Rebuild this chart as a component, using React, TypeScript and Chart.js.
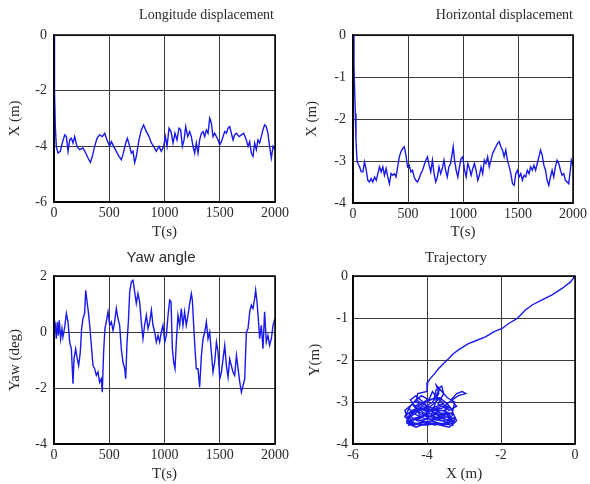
import React, { useEffect, useRef } from "react";
import { Chart, registerables } from "chart.js";
Chart.register(...registerables);

// ---------- Data ----------
const LON_T = [0,3,6,12,21,36,57,75,97,112,127,142,157,172,187,208,232,262,287,308,329,347,368,389,413,437,459,480,504,519,540,564,588,609,624,649,664,685,700,715,730,745,769,790,811,836,860,881,902,926,950,971,992,1008,1023,1041,1059,1077,1095,1113,1131,1146,1162,1177,1192,1210,1228,1243,1258,1273,1288,1303,1318,1334,1349,1364,1379,1394,1409,1424,1439,1454,1470,1485,1500,1515,1530,1545,1560,1575,1590,1605,1620,1635,1651,1675,1696,1717,1741,1756,1771,1786,1801,1816,1831,1846,1861,1876,1891,1906,1921,1936,1951,1967,1982,2000];
const LON_X = [0,-0.72,-2.0,-3.3,-4.0,-4.24,-4.18,-3.88,-3.59,-3.65,-4.18,-3.77,-3.71,-3.88,-3.65,-4.0,-4.12,-4.06,-4.24,-4.42,-4.58,-4.36,-4.0,-3.71,-3.59,-3.65,-3.53,-3.77,-4.0,-3.83,-4.0,-4.18,-4.36,-4.48,-4.3,-3.88,-3.71,-4.0,-4.24,-4.18,-4.58,-4.36,-3.77,-3.41,-3.23,-3.47,-3.65,-3.88,-4.0,-4.18,-4.0,-4.18,-4.0,-3.65,-4.0,-3.35,-3.47,-3.88,-3.53,-3.77,-3.35,-3.41,-4.0,-3.77,-3.29,-3.65,-3.47,-3.65,-4.0,-4.24,-3.88,-4.24,-3.77,-3.53,-3.47,-3.65,-3.41,-3.53,-2.99,-3.17,-3.65,-3.53,-3.65,-3.77,-3.94,-3.83,-3.65,-3.47,-3.53,-3.35,-3.29,-3.53,-3.77,-3.59,-3.53,-3.65,-3.59,-3.53,-3.77,-4.0,-3.83,-4.24,-4.36,-3.88,-4.12,-3.77,-3.88,-3.65,-3.41,-3.23,-3.29,-3.53,-4.0,-4.42,-4.0,-4.12];

const HOR_T = [0,9,15,21,27,36,45,60,75,90,105,120,135,150,165,180,196,211,226,241,256,271,286,301,316,331,346,361,376,391,406,421,436,451,466,481,496,511,526,541,556,571,586,601,617,632,647,662,677,692,707,722,737,752,767,782,797,812,827,842,857,872,887,902,911,923,938,953,968,983,998,1014,1029,1044,1059,1074,1089,1104,1119,1134,1149,1164,1179,1194,1209,1224,1239,1254,1269,1284,1299,1314,1329,1344,1359,1374,1389,1404,1420,1435,1450,1465,1480,1495,1510,1525,1540,1555,1570,1585,1600,1615,1630,1645,1660,1675,1690,1705,1720,1735,1750,1765,1780,1795,1810,1825,1840,1855,1871,1886,1901,1916,1931,1946,1961,1976,1985,2000];
const HOR_X = [0,-0.75,-1.31,-1.87,-2.5,-2.98,-3.06,-3.14,-3.26,-3.26,-3.02,-3.22,-3.46,-3.5,-3.42,-3.5,-3.38,-3.46,-3.3,-3.14,-3.26,-3.14,-3.34,-3.18,-3.38,-3.54,-3.3,-3.34,-3.3,-3.38,-3.14,-2.9,-2.78,-2.7,-2.66,-2.86,-3.14,-3.1,-3.26,-3.22,-3.38,-3.46,-3.5,-3.42,-3.3,-3.22,-3.1,-2.98,-2.9,-3.1,-3.26,-2.98,-3.3,-3.5,-3.38,-3.14,-3.3,-3.18,-2.98,-3.22,-3.38,-3.14,-3.06,-2.82,-2.66,-2.98,-3.22,-3.38,-3.14,-2.94,-2.9,-3.22,-3.38,-3.06,-3.18,-3.34,-3.18,-3.06,-3.22,-3.46,-3.34,-3.14,-3.3,-2.98,-3.06,-2.9,-3.14,-2.98,-2.82,-2.74,-2.66,-2.58,-2.54,-2.66,-2.74,-2.9,-2.74,-2.98,-3.14,-3.3,-3.54,-3.58,-3.3,-3.22,-3.38,-3.3,-3.46,-3.34,-3.38,-3.22,-3.3,-3.14,-3.22,-3.1,-3.22,-3.06,-2.9,-2.74,-2.86,-3.1,-3.22,-3.46,-3.58,-3.38,-3.22,-3.38,-3.14,-2.98,-3.06,-3.22,-3.34,-3.3,-3.46,-3.5,-3.54,-3.22,-2.98,-3.1];

const YAW_T = [0,12,21,30,39,48,60,72,81,97,112,127,142,157,172,181,196,208,223,238,250,262,277,287,299,311,323,338,353,368,383,398,413,428,437,449,461,473,489,504,519,534,549,564,579,594,609,624,640,649,661,673,685,700,715,730,745,760,775,790,805,820,836,851,866,881,896,911,926,941,956,971,986,1002,1017,1032,1047,1059,1071,1083,1095,1107,1122,1137,1152,1167,1182,1197,1213,1228,1243,1252,1264,1276,1288,1303,1318,1334,1349,1364,1379,1394,1409,1424,1439,1454,1470,1485,1500,1515,1530,1545,1560,1575,1590,1605,1620,1635,1651,1666,1681,1696,1711,1726,1741,1756,1771,1786,1801,1816,1825,1837,1849,1861,1876,1891,1906,1921,1936,1951,1967,1982,2000];
const YAW_DEG = [0,0.24,-0.24,0.36,-0.12,0.42,-0.24,0.12,-0.18,0.18,0.66,0.36,-0.36,-0.6,-1.85,-0.96,-0.6,-0.9,-1.2,-0.72,0.12,0.48,0.66,1.49,1.08,0.72,0.24,-0.48,-1.2,-1.31,-1.55,-1.43,-1.79,-1.67,-2.15,-0.72,0.12,0.36,0.72,0.24,0.36,0.06,0.36,0.84,0.48,0.24,-0.6,-1.08,-1.31,-1.67,-0.36,0.36,1.43,1.79,1.85,1.43,1.02,1.37,1.08,0.36,-0.24,0.24,0.6,0.12,0.36,0.78,0.24,0,-0.36,-0.12,-0.36,0,0.24,-0.36,-0.12,0.6,1.14,1.08,-0.6,-1.08,-1.31,-0.36,0.6,0.24,0.84,0.24,0.72,0.24,0.6,1.02,1.37,1.14,0.24,-0.6,-1.31,-1.31,-1.97,-0.84,-0.24,0,0.36,-0.24,0,-0.72,-1.43,-1.08,-0.36,-0.72,-1.67,-1.43,-0.96,-0.48,-1.2,-1.61,-0.96,-1.2,-1.43,-1.55,-0.84,-1.31,-1.79,-2.15,-1.91,-1.67,0,0.12,0.72,0.96,0.84,1.2,1.49,1.08,0.48,-0.24,0.24,-0.6,0.72,-0.36,-0.12,-0.48,-0.24,0.24,0.48];

const TRAJ_X = [0,-0.12,-0.34,-0.62,-0.89,-1.16,-1.34,-1.56,-1.79,-1.97,-2.2,-2.42,-2.65,-2.88,-3.1,-3.29,-3.42,-3.56,-3.69,-3.8,-3.92,-3.98,-4.0,-4.25,-4.3,-4.1,-4.4,-4.55,-4.5,-4.2,-3.9,-3.6,-3.3,-3.4,-3.7,-3.95,-4.2,-4.35,-4.0,-3.8,-3.75,-3.6,-3.55,-3.7,-3.4,-3.2,-3.35,-3.2,-3.05,-2.95,-3.15,-3.4,-3.6,-3.9,-4.2,-4.5,-4.6,-4.4,-4.1,-3.8,-3.5,-3.25,-3.3,-3.7,-4.0,-4.35,-4.5,-4.3,-4.0,-3.7,-3.45,-3.55,-3.9,-4.2,-4.45,-4.3,-4.05,-3.85,-3.65,-3.4,-3.55,-3.75,-3.65,-3.8,-4.1,-4.4,-4.0,-3.6,-3.3,-3.5,-3.8,-4.1,-4.35,-4.55,-4.45,-4.2,-3.95,-3.7,-3.45,-3.25,-3.35,-3.6,-3.85,-4.1,-4.3,-4.45,-4.6,-4.4,-4.15,-3.9,-3.65,-3.4,-3.2,-3.3,-3.55,-3.8,-4.05,-4.3,-4.5,-4.35,-4.15,-3.95,-3.85,-3.7,-3.9,-4.2,-4.45,-4.25,-3.95,-3.6,-3.35,-3.5,-3.75,-4.0,-4.25,-4.0,-3.65,-3.45,-3.3,-3.25,-3.45,-3.6,-3.75,-3.68,-3.85,-4.1,-4.4,-4.55,-4.3,-4.0,-3.7,-3.45,-3.3,-3.55,-3.85,-4.1,-3.9,-3.6,-3.4];
const TRAJ_Y = [0,-0.14,-0.29,-0.45,-0.57,-0.69,-0.81,-1.01,-1.13,-1.25,-1.33,-1.45,-1.53,-1.61,-1.73,-1.85,-1.97,-2.09,-2.21,-2.33,-2.45,-2.53,-2.75,-2.8,-3.0,-3.1,-3.2,-3.3,-3.55,-3.5,-3.45,-3.55,-3.45,-3.3,-3.25,-3.35,-3.3,-3.1,-3.0,-2.9,-2.7,-2.62,-2.8,-3.05,-3.2,-3.1,-2.95,-2.8,-2.75,-2.8,-2.85,-3.0,-3.15,-3.2,-3.4,-3.45,-3.2,-3.05,-3.25,-3.4,-3.35,-3.4,-3.55,-3.5,-3.55,-3.5,-3.35,-3.2,-3.15,-3.3,-3.25,-3.4,-3.35,-3.25,-2.95,-2.85,-3.05,-3.25,-3.35,-3.45,-3.05,-2.85,-2.65,-3.1,-3.35,-3.4,-3.3,-3.2,-3.3,-3.5,-3.55,-3.45,-3.55,-3.45,-3.25,-3.15,-3.25,-3.4,-3.5,-3.35,-3.15,-3.05,-3.15,-3.05,-2.95,-3.1,-3.35,-3.5,-3.55,-3.5,-3.55,-3.6,-3.45,-3.25,-3.3,-3.3,-3.4,-3.3,-3.15,-3.0,-2.85,-2.95,-2.75,-2.95,-3.1,-3.2,-3.35,-3.45,-3.4,-3.45,-3.4,-3.2,-3.2,-3.2,-3.1,-2.95,-2.9,-3.05,-3.2,-3.0,-2.9,-2.75,-2.6,-2.8,-3.0,-3.15,-3.25,-3.5,-3.6,-3.5,-3.35,-3.3,-3.5,-3.55,-3.45,-3.3,-3.2,-3.1,-3.15];

const TIME_TICKS = [0, 500, 1000, 1500, 2000];

// ---------- Helpers ----------
function pairs(xs: number[], ys: number[]) {
  const n = Math.min(xs.length, ys.length);
  const out: { x: number; y: number }[] = [];
  for (let i = 0; i < n; i++) out.push({ x: xs[i], y: ys[i] });
  return out;
}

const SERIF = "'Liberation Serif', 'Times New Roman', serif";
const SANS = "'Liberation Sans', Arial, sans-serif";

const frameTitlePlugin = {
  id: "frameTitle",
  afterDraw(chart: any, _args: any, opts: any) {
    const { ctx, chartArea: a } = chart;
    ctx.save();
    ctx.strokeStyle = "#000";
    ctx.lineWidth = 1.5;
    ctx.strokeRect(a.left, a.top, a.right - a.left, a.bottom - a.top);
    ctx.font = opts.font;
    ctx.fillStyle = "#2a2a2a";
    ctx.textAlign = opts.align;
    ctx.textBaseline = "middle";
    ctx.fillText(opts.text, opts.x, opts.y);
    ctx.restore();
  },
};

type PanelCfg = {
  left: number;
  top: number;
  area: { l: number; t: number; r: number; b: number };
  data: { x: number; y: number }[];
  xMin: number; xMax: number; xStep: number;
  yMin: number; yMax: number; yStep: number;
  xTitle: string; yTitle: string;
  yTitlePad: number;
  yTickPad: number;
  title: { text: string; x: number; y: number; align: string; font: string };
};

const W = 295;
const H = 242;

const plainTick = (v: any) => String(v);

function Panel({ cfg }: { cfg: PanelCfg }) {
  const ref = useRef<HTMLCanvasElement>(null);
  useEffect(() => {
    if (!ref.current) return;
    const { area } = cfg;
    const chart = new Chart(ref.current, {
      type: "line",
      data: {
        datasets: [
          {
            data: cfg.data,
            borderColor: "rgb(25,25,235)",
            borderWidth: 1.4,
            pointRadius: 0,
            tension: 0,
            fill: false,
          },
        ],
      },
      options: {
        responsive: false,
        animation: false,
        devicePixelRatio: 1,
        layout: { padding: { top: area.t, right: W - area.r, left: 0, bottom: 0 } },
        plugins: {
          legend: { display: false },
          tooltip: { enabled: false },
          frameTitle: cfg.title,
        } as any,
        scales: {
          x: {
            type: "linear",
            min: cfg.xMin,
            max: cfg.xMax,
            afterFit: (s: any) => { s.height = H - area.b; },
            ticks: {
              stepSize: cfg.xStep,
              padding: 3,
              color: "#2a2a2a",
              font: { family: SERIF, size: 14 },
              maxRotation: 0,
              autoSkip: false,
              callback: plainTick,
            },
            grid: { color: "#3a3a3a", lineWidth: 1, drawTicks: false },
            border: { display: true, color: "#000", width: 1.5 },
            title: {
              display: true,
              text: cfg.xTitle,
              color: "#2a2a2a",
              font: { family: SERIF, size: 15, lineHeight: 1.2 },
              padding: { top: 0, bottom: 1 },
            },
          },
          y: {
            type: "linear",
            min: cfg.yMin,
            max: cfg.yMax,
            afterFit: (s: any) => { s.width = area.l; },
            ticks: {
              stepSize: cfg.yStep,
              padding: cfg.yTickPad,
              color: "#2a2a2a",
              font: { family: SERIF, size: 14 },
              autoSkip: false,
              callback: plainTick,
            },
            grid: { color: "#3a3a3a", lineWidth: 1, drawTicks: false },
            border: { display: true, color: "#000", width: 1.5 },
            title: {
              display: true,
              text: cfg.yTitle,
              color: "#2a2a2a",
              font: { family: SERIF, size: 15, lineHeight: 1.2 },
              padding: { top: cfg.yTitlePad, bottom: 0 },
            },
          },
        },
      },
      plugins: [frameTitlePlugin],
    } as any);
    return () => chart.destroy();
  }, [cfg]);
  return (
    <canvas
      ref={ref}
      width={W}
      height={H}
      style={{ position: "absolute", left: cfg.left, top: cfg.top, width: W, height: H, display: "block" }}
    />
  );
}

const PANELS: PanelCfg[] = [
  {
    left: 0, top: 0,
    area: { l: 54, t: 35, r: 275, b: 202 },
    data: pairs(LON_T, LON_X),
    xMin: TIME_TICKS[0], xMax: TIME_TICKS[TIME_TICKS.length - 1], xStep: 500,
    yMin: -6, yMax: 0, yStep: 2,
    xTitle: "T(s)", yTitle: "X (m)", yTitlePad: 6, yTickPad: 7,
    title: { text: "Longitude displacement", x: 274, y: 15, align: "right", font: `14px ${SERIF}` },
  },
  {
    left: 295, top: 0,
    area: { l: 58, t: 35, r: 280, b: 203 },
    data: pairs(HOR_T, HOR_X),
    xMin: 0, xMax: 2000, xStep: 500,
    yMin: -4, yMax: 0, yStep: 1,
    xTitle: "T(s)", yTitle: "X (m)", yTitlePad: 8, yTickPad: 7,
    title: { text: "Horizontal displacement", x: 278, y: 15, align: "right", font: `14px ${SERIF}` },
  },
  {
    left: 0, top: 242,
    area: { l: 54, t: 34, r: 275, b: 202 },
    data: pairs(YAW_T, YAW_DEG),
    xMin: 0, xMax: 2000, xStep: 500,
    yMin: -4, yMax: 2, yStep: 2,
    xTitle: "T(s)", yTitle: "Yaw (deg)", yTitlePad: 6, yTickPad: 7,
    title: { text: "Yaw angle", x: 161, y: 16, align: "center", font: `15px ${SANS}` },
  },
  {
    left: 295, top: 242,
    area: { l: 58, t: 34, r: 280, b: 202 },
    data: pairs(TRAJ_X, TRAJ_Y),
    xMin: -6, xMax: 0, xStep: 2,
    yMin: -4, yMax: 0, yStep: 1,
    xTitle: "X (m)", yTitle: "Y(m)", yTitlePad: 11, yTickPad: 5,
    title: { text: "Trajectory", x: 161, y: 16, align: "center", font: `15px ${SERIF}` },
  },
];

export default function App() {
  return (
    <div style={{ position: "absolute", left: 0, top: 0, width: 590, height: 484, background: "#fff" }}>
      {PANELS.map((p, i) => (
        <Panel key={i} cfg={p} />
      ))}
    </div>
  );
}
